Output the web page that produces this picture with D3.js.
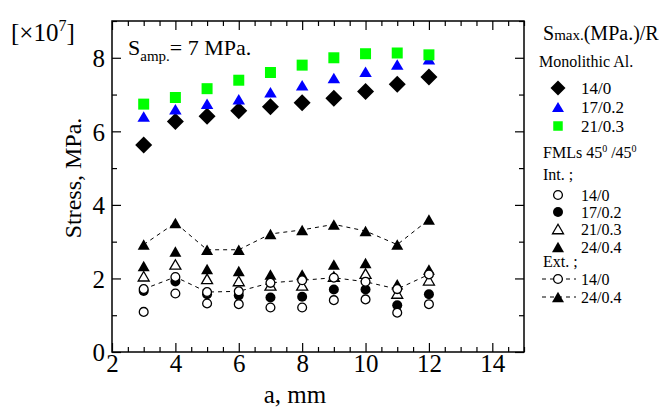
<!DOCTYPE html>
<html><head><meta charset="utf-8">
<script src="https://cdn.jsdelivr.net/npm/d3@7"></script>
<style>
body{margin:0;background:#fff}
svg{display:block;font-family:"Liberation Serif","Times New Roman",serif}
text{font-family:"Liberation Serif","Times New Roman",serif;fill:#000}
</style>
</head><body>
<svg id="c" width="659" height="410"></svg>
<script>
// ---- data ----
const crackLength = [3,4,5,6,7,8,9,10,11,12];           // a, mm
const mono_14_0   = [5.63,6.27,6.41,6.56,6.67,6.78,6.90,7.08,7.28,7.48];
const mono_17_02  = [6.40,6.60,6.75,6.87,7.06,7.25,7.45,7.62,7.82,7.96];
const mono_21_03  = [6.74,6.92,7.16,7.39,7.60,7.80,8.00,8.11,8.13,8.08];
const int_14_0    = [1.09,1.59,1.32,1.30,1.21,1.21,1.41,1.43,1.07,1.30];
const int_17_02   = [1.66,1.92,1.57,1.54,1.48,1.50,1.70,1.70,1.27,1.57];
const int_21_03   = [2.06,2.38,1.99,1.93,1.81,1.81,2.05,2.13,1.59,1.95];
const int_24_04   = [2.34,2.73,2.26,2.20,2.11,2.11,2.38,2.42,1.84,2.24];
const ext_14_0    = [1.71,2.04,1.63,1.65,1.88,1.95,2.02,1.91,1.71,2.11];
const ext_24_04   = [2.92,3.51,2.78,2.78,3.21,3.32,3.47,3.29,2.92,3.60];
const xMajorTicks = [2,4,6,8,10,12,14];
const yMajorTicks = [0,2,4,6,8];
const monoLabels  = ["14/0","17/0.2","21/0.3"];
const intLabels   = ["14/0","17/0.2","21/0.3","24/0.4"];
const extLabels   = ["14/0","24/0.4"];

// ---- layout ----
const FONT = '"Liberation Serif","Times New Roman",serif';
const svg = d3.select("#c");
const L = 112, R = 524, T = 21, B = 352;
const x = d3.scaleLinear().domain([2,15]).range([L,R]);
const y = d3.scaleLinear().domain([0,9]).range([B,T]);

// ---- shapes ----
const diamond = s => `M0,${-s}L${s},0L0,${s}L${-s},0Z`;
const tri = (w,h) => `M0,${-h/2}L${w/2},${h/2}L${-w/2},${h/2}Z`;
const square = s => `M${-s/2},${-s/2}h${s}v${s}h${-s}Z`;
const circle = r => `M${r},0A${r},${r} 0 1,1 ${-r},0A${r},${r} 0 1,1 ${r},0Z`;

const styles = {
  diamond: {d: diamond(8.5), fill:"#000", stroke:"none", sw:0},
  blueTri: {d: tri(12.5,10.5), fill:"#0000ff", stroke:"none", sw:0},
  greenSq: {d: square(11), fill:"#00ff00", stroke:"none", sw:0},
  openCirc:{d: circle(4.4), fill:"#fff", stroke:"#000", sw:1.3},
  fillCirc:{d: circle(5), fill:"#000", stroke:"none", sw:0},
  openTri: {d: tri(11,9.5), fill:"#fff", stroke:"#000", sw:1.3},
  fillTri: {d: tri(12,10.5), fill:"#000", stroke:"none", sw:0}
};
const legendStyles = {
  diamond: {d: diamond(7.5), fill:"#000", stroke:"none", sw:0},
  blueTri: {d: tri(12,10), fill:"#0000ff", stroke:"none", sw:0},
  greenSq: {d: square(9.5), fill:"#00ff00", stroke:"none", sw:0}
};

// ---- axes ----
const minorX = d3.range(2,15.01,0.5).filter(v => v % 2 !== 0);
const minorY = d3.range(0,9.01,1).filter(v => v % 2 !== 0);
function addAxis(gen, tr, major, minor, labels){
  const gMin = svg.append("g").attr("transform",tr)
    .call(gen(minor).tickValues(minor).tickSize(-5).tickFormat(""));
  const gMaj = svg.append("g").attr("transform",tr)
    .call(gen(major).tickValues(major).tickSize(-9).tickFormat(labels ? d3.format("d") : ""));
  [gMin,gMaj].forEach(g=>{
    g.select(".domain").remove();
    g.selectAll("line").attr("stroke","#000").attr("stroke-width",1.2);
    g.attr("font-family",FONT).attr("font-size",25);
  });
  return gMaj;
}
const axB = addAxis(v=>d3.axisBottom(x), `translate(0,${B})`, xMajorTicks, minorX, true);
axB.selectAll("text").attr("y",20).attr("dy",0);
addAxis(v=>d3.axisTop(x), `translate(0,${T})`, xMajorTicks, minorX, false);
const axL = addAxis(v=>d3.axisLeft(y), `translate(${L},0)`, yMajorTicks, minorY, true);
axL.selectAll("text").attr("x",-7).attr("dy","0.35em");

svg.append("rect").attr("x",L).attr("y",T).attr("width",R-L).attr("height",B-T)
  .attr("fill","none").attr("stroke","#000").attr("stroke-width",1.5);
addAxis(v=>d3.axisRight(y), `translate(${R},0)`, yMajorTicks, minorY, false);

// ---- series ----
function drawSeries(vals, st){
  svg.append("g").selectAll("path").data(vals).join("path")
    .attr("d", st.d)
    .attr("transform",(v,i)=>`translate(${x(crackLength[i])},${y(v)})`)
    .attr("fill",st.fill).attr("stroke",st.stroke).attr("stroke-width",st.sw);
}
function drawLine(vals){
  const line = d3.line().x((v,i)=>x(crackLength[i])).y(v=>y(v));
  svg.append("path").attr("d",line(vals)).attr("fill","none")
    .attr("stroke","#000").attr("stroke-width",1).attr("stroke-dasharray","4,4");
}
drawSeries(mono_14_0, styles.diamond);
drawSeries(mono_17_02, styles.blueTri);
drawSeries(mono_21_03, styles.greenSq);
drawSeries(int_24_04, styles.fillTri);
drawSeries(int_21_03, styles.openTri);
drawSeries(int_17_02, styles.fillCirc);
drawSeries(int_14_0, styles.openCirc);
drawLine(ext_14_0);
drawLine(ext_24_04);
drawSeries(ext_14_0, styles.openCirc);
drawSeries(ext_24_04, styles.fillTri);

// ---- texts ----
const t1 = svg.append("text").attr("x",11).attr("y",41).style("font-size","25px");
t1.append("tspan").text("[×10");
t1.append("tspan").attr("dy",-10).style("font-size","16px").text("7");
t1.append("tspan").attr("dy",10).text("]");

const t2 = svg.append("text").attr("x",128).attr("y",55).style("font-size","22px");
t2.append("tspan").text("S");
t2.append("tspan").attr("dy",6).style("font-size","15px").text("amp.");
t2.append("tspan").attr("dy",-6).text("= 7 MPa.");

svg.append("text").attr("transform","translate(81,178) rotate(-90)")
  .attr("text-anchor","middle").style("font-size","24px").text("Stress, MPa.");
svg.append("text").attr("x",295).attr("y",403)
  .attr("text-anchor","middle").style("font-size","25px").text("a, mm");

// ---- legend ----
const lx = 543, mx = 558, tx = 581;
const lt = svg.append("text").attr("x",lx).attr("y",40).style("font-size","20px");
lt.append("tspan").text("S");
lt.append("tspan").style("font-size","15px").text("max.");
lt.append("tspan").text("(MPa.)/R");
svg.append("text").attr("x",539).attr("y",67).style("font-size","16px").text("Monolithic Al.");
const monoSt = [legendStyles.diamond, legendStyles.blueTri, legendStyles.greenSq];
const monoY = [88,107,126];
monoLabels.forEach((lab,i)=>{
  const st = monoSt[i];
  svg.append("path").attr("d",st.d).attr("transform",`translate(${mx},${monoY[i]})`)
    .attr("fill",st.fill);
  svg.append("text").attr("x",tx).attr("y",monoY[i]+6).style("font-size","17px").text(lab);
});
const ft = svg.append("text").attr("x",lx).attr("y",158).style("font-size","16px");
ft.append("tspan").text("FMLs 45");
ft.append("tspan").attr("dy",-6).style("font-size","10px").text("0");
ft.append("tspan").attr("dy",6).text(" /45");
ft.append("tspan").attr("dy",-6).style("font-size","10px").text("0");
svg.append("text").attr("x",lx).attr("y",180).style("font-size","16px").text("Int. ;");
const intSt = [styles.openCirc, styles.fillCirc, styles.openTri, styles.fillTri];
const intY = [195,212,229,247];
intLabels.forEach((lab,i)=>{
  const st = intSt[i];
  svg.append("path").attr("d",st.d).attr("transform",`translate(${mx},${intY[i]})`)
    .attr("fill",st.fill).attr("stroke",st.stroke).attr("stroke-width",st.sw);
  svg.append("text").attr("x",tx).attr("y",intY[i]+5.5).style("font-size","16px").text(lab);
});
svg.append("text").attr("x",lx).attr("y",267).style("font-size","16px").text("Ext. ;");
const extSt = [styles.openCirc, styles.fillTri];
const extY = [279,297];
extLabels.forEach((lab,i)=>{
  const st = extSt[i];
  svg.append("line").attr("x1",542).attr("x2",576).attr("y1",extY[i]).attr("y2",extY[i])
    .attr("stroke","#000").attr("stroke-width",1).attr("stroke-dasharray","4,4");
  svg.append("path").attr("d",st.d).attr("transform",`translate(${mx},${extY[i]})`)
    .attr("fill",st.fill).attr("stroke",st.stroke).attr("stroke-width",st.sw);
  svg.append("text").attr("x",tx).attr("y",extY[i]+5.5).style("font-size","16px").text(lab);
});
svg.selectAll("text").style("font-family",FONT);
</script>
</body></html>
